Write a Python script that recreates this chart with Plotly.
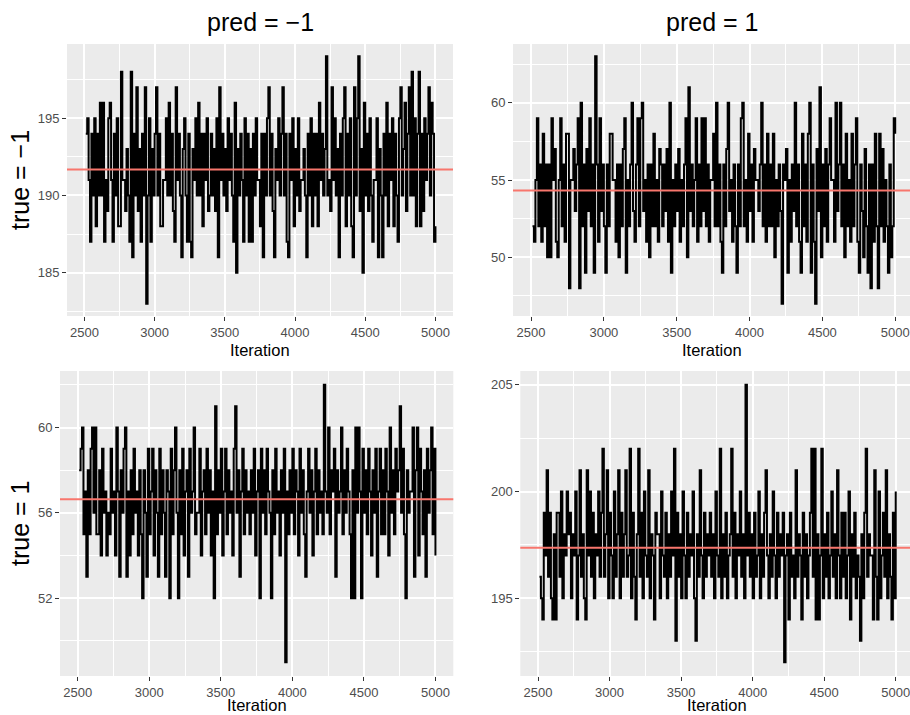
import numpy as np
import plotly.graph_objects as go

# MCMC trace of the confusion-matrix cell counts (kept every 10th draw after burn-in)
burn_in = 2500
n_iter = 5000
iterations = list(range(2510, 5001, 10))

# cases per true class (row totals of the confusion matrix)
n_true_neg = 246
n_true_pos = 254

# true = -1, pred = -1
tn_draws = [
    194, 195, 191, 187, 194, 190, 195, 188, 194, 190,
    196, 190, 196, 187, 191, 189, 195, 196, 191, 187,
    194, 190, 195, 188, 188, 198, 191, 191, 189, 193,
    190, 187, 198, 186, 194, 190, 197, 189, 193, 187,
    194, 190, 197, 183, 190, 195, 187, 193, 190, 194,
    197, 190, 194, 188, 188, 191, 191, 195, 190, 196,
    190, 194, 189, 187, 197, 191, 194, 190, 186, 193,
    195, 190, 187, 194, 187, 186, 193, 191, 195, 190,
    196, 190, 194, 188, 194, 191, 195, 189, 190, 194,
    190, 193, 189, 195, 186, 197, 191, 194, 190, 193,
    189, 195, 191, 194, 190, 187, 196, 185, 193, 190,
    194, 191, 187, 195, 190, 194, 187, 193, 187, 194,
    190, 195, 191, 191, 188, 194, 186, 194, 190, 195,
    197, 190, 194, 189, 186, 193, 191, 195, 190, 194,
    197, 190, 194, 187, 186, 194, 191, 195, 188, 193,
    190, 195, 189, 191, 191, 193, 190, 186, 194, 190,
    195, 188, 194, 190, 194, 188, 196, 191, 194, 190,
    193, 199, 190, 191, 189, 197, 191, 195, 190, 193,
    186, 194, 190, 195, 197, 188, 194, 190, 195, 188,
    186, 197, 190, 195, 199, 189, 193, 185, 196, 190,
    194, 189, 195, 190, 187, 191, 191, 195, 186, 193,
    190, 186, 194, 190, 196, 188, 194, 191, 195, 188,
    194, 190, 187, 195, 197, 190, 193, 196, 189, 194,
    197, 190, 198, 190, 195, 188, 194, 198, 188, 194,
    189, 195, 191, 194, 197, 190, 196, 194, 187, 188,
]

# true = 1, pred = -1
fn_draws = [
    58, 59, 60, 55, 57, 53, 58, 55, 59, 60,
    56, 60, 55, 55, 58, 54, 59, 56, 57, 54,
    56, 55, 59, 56, 57, 54, 60, 57, 53, 58,
    56, 59, 60, 53, 57, 54, 58, 55, 59, 56,
    57, 54, 58, 55, 52, 58, 56, 53, 59, 55,
    57, 59, 54, 58, 56, 53, 59, 55, 58, 56,
    53, 58, 57, 52, 59, 55, 58, 60, 56, 52,
    58, 55, 59, 54, 57, 58, 53, 59, 56, 57,
    60, 55, 56, 56, 59, 54, 57, 58, 55, 59,
    56, 58, 54, 57, 52, 61, 55, 58, 56, 59,
    54, 57, 59, 55, 58, 56, 57, 54, 59, 61,
    56, 58, 53, 57, 59, 55, 58, 56, 57, 55,
    58, 56, 59, 54, 57, 58, 52, 59, 56, 58,
    55, 59, 57, 56, 52, 58, 55, 59, 56, 57,
    54, 58, 56, 59, 49, 57, 55, 58, 56, 59,
    55, 58, 57, 54, 59, 56, 58, 55, 53, 57,
    59, 56, 58, 54, 57, 59, 55, 58, 56, 57,
    55, 62, 57, 56, 60, 55, 58, 57, 59, 53,
    58, 56, 57, 60, 55, 58, 56, 59, 57, 55,
    52, 58, 52, 60, 56, 60, 57, 52, 59, 56,
    58, 55, 59, 57, 54, 58, 56, 59, 53, 57,
    59, 55, 58, 55, 59, 57, 54, 60, 56, 58,
    55, 59, 57, 58, 61, 56, 59, 55, 52, 58,
    56, 57, 57, 60, 53, 58, 60, 54, 59, 57,
    55, 58, 53, 59, 56, 58, 60, 55, 59, 54,
]

# the other cell of each row follows from the class total
fp_draws = [n_true_neg - v for v in tn_draws]   # true = -1, pred = 1
tp_draws = [n_true_pos - v for v in fn_draws]   # true = 1, pred = 1

col_labels = ["pred = \u22121", "pred = 1"]
row_labels = ["true = \u22121", "true = 1"]
x_title = "Iteration"

W, H = 910, 715
FONT = "Liberation Sans, Arial, sans-serif"
PANEL_BG = "#EBEBEB"
MEAN_COLOR = "#F8766D"

# panel boxes in pixels: left, right, top, bottom
panels = [
    dict(series=tn_draws, dtick=5, box=(67, 453, 44, 316)),
    dict(series=fp_draws, dtick=5, box=(513, 913.4, 44, 316)),
    dict(series=fn_draws, dtick=4, box=(60, 453.3, 371, 676)),
    dict(series=tp_draws, dtick=5, box=(520.3, 913.6, 371, 676)),
]

fig = go.Figure()
layout = dict(
    width=W, height=H, autosize=False,
    margin=dict(l=0, r=0, t=0, b=0),
    paper_bgcolor="white", plot_bgcolor=PANEL_BG,
    showlegend=False,
    font=dict(family=FONT, color="black"),
)

x_lo = (burn_in + 1) - 0.05 * (n_iter - burn_in - 1)
x_hi = n_iter + 0.05 * (n_iter - burn_in - 1)

shapes = []
for i, p in enumerate(panels, start=1):
    left, right, top, bottom = p["box"]
    vis_right = min(right, W)
    xr_hi = x_lo + (vis_right - left) / (right - left) * (x_hi - x_lo)
    vals = np.asarray(p["series"], dtype=float)
    span = vals.max() - vals.min()
    y_lo, y_hi = vals.min() - 0.05 * span, vals.max() + 0.05 * span
    xa = "x" if i == 1 else f"x{i}"
    ya = "y" if i == 1 else f"y{i}"
    common = dict(
        showgrid=True, gridcolor="white", gridwidth=1.7,
        zeroline=False, showline=False,
        ticks="outside", ticklen=4, tickwidth=1.2, tickcolor="#333333",
        tickfont=dict(family=FONT, size=13, color="#4D4D4D"),
        ticklabeloverflow="allow",
    )
    layout["xaxis" if i == 1 else f"xaxis{i}"] = dict(
        domain=[left / W, vis_right / W], anchor=ya,
        range=[x_lo, xr_hi], tick0=0, dtick=500, tickformat="d",
        minor=dict(dtick=250, showgrid=True, gridcolor="white", gridwidth=0.8),
        **common,
    )
    layout["yaxis" if i == 1 else f"yaxis{i}"] = dict(
        domain=[1 - bottom / H, 1 - top / H], anchor=xa,
        range=[y_lo, y_hi], tick0=0, dtick=p["dtick"], tickformat="d",
        minor=dict(dtick=p["dtick"] / 2, showgrid=True, gridcolor="white", gridwidth=0.8),
        **common,
    )
    fig.add_trace(go.Scatter(
        x=iterations, y=p["series"], mode="lines",
        line=dict(color="black", width=2, shape="hv", simplify=False),
        xaxis=xa, yaxis=ya, hoverinfo="skip",
    ))
    shapes.append(dict(
        type="line", xref=f"{xa} domain", yref=ya,
        x0=0, x1=1, y0=float(vals.mean()), y1=float(vals.mean()),
        line=dict(color=MEAN_COLOR, width=2), layer="above",
    ))

layout["shapes"] = shapes


def ann(text, x, y, size, angle=0, yanchor="middle"):
    return dict(
        text=text, x=x / W, y=1 - y / H, xref="paper", yref="paper",
        showarrow=False, xanchor="center", yanchor=yanchor, borderpad=0,
        textangle=angle, font=dict(family=FONT, size=size, color="black"),
    )


annotations = [
    ann(col_labels[0], 260, 22, 25),
    ann(col_labels[1], 712, 22, 25),
    ann(row_labels[0], 20, 180, 25, -90),
    ann(row_labels[1], 20, 524, 25, -90),
    ann(x_title, 260, 350, 16.5),
    ann(x_title, 712, 350, 16.5),
    ann(x_title, 257, H, 16.5, yanchor="bottom"),
    ann(x_title, 717, H, 16.5, yanchor="bottom"),
]
layout["annotations"] = annotations

fig.update_layout(**layout)
fig.write_html("out.html")
